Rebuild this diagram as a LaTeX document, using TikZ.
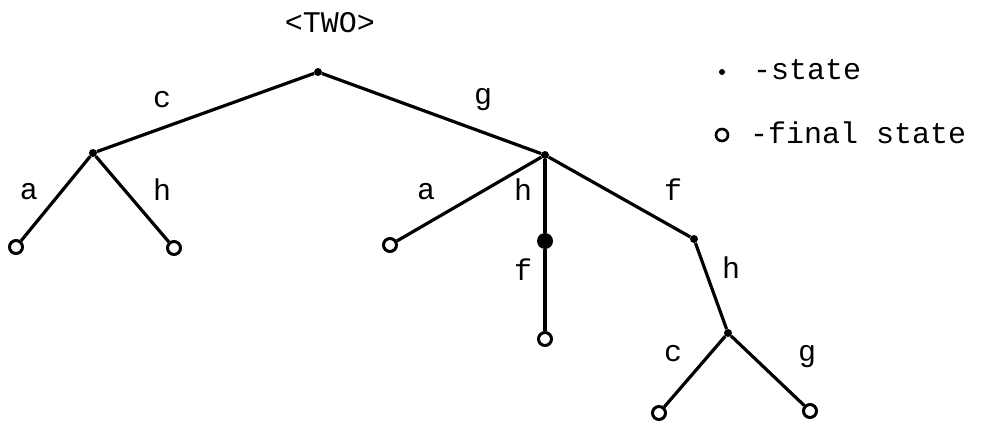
\documentclass[tikz,border=0pt]{standalone}
\usepackage{fontspec}
\setmonofont{Liberation Mono}
\usepackage{tikz}
\usetikzlibrary{positioning}

\tikzset{
  state/.style={circle, fill=black, inner sep=0pt, minimum size=8pt},
  bigstate/.style={circle, fill=black, inner sep=0pt, minimum size=16pt},
  final/.style={circle, draw=black, line width=3pt, fill=white, inner sep=0pt,
    minimum size=13pt,
    path picture={\fill (path picture bounding box.center) circle (2.4pt);}},
  edge/.style={line width=3.2pt},
  lbl/.style={font=\ttfamily\fontsize{30}{32}\selectfont, inner sep=1pt}
}

\begin{document}
\begin{tikzpicture}[x=1pt, y=-1pt]
  \useasboundingbox (0,0) rectangle (982,423);
  % title
  \node[lbl] (title) at (330,23) {<TWO>};
  % tree states
  \node[state] (root) at (318,72) {};
  \node[state] (sc) at (93,153) {};
  \node[state] (sg) at (545,155) {};
  \node[final] (sca) at (16,247) {};
  \node[final] (sch) at (174,248) {};
  \node[final] (sga) at (390,245) {};
  \node[bigstate] (sgh) at (545,241) {};
  \node[final] (sghf) at (545,339) {};
  \node[state] (sgf) at (694,239) {};
  \node[state] (sgfh) at (728,333) {};
  \node[final] (sgfhc) at (659,413) {};
  \node[final] (sgfhg) at (810,411) {};
  % transitions
  \draw[edge] (root) -- (sc);
  \draw[edge] (root) -- (sg);
  \draw[edge] (sc) -- (sca);
  \draw[edge] (sc) -- (sch);
  \draw[edge] (sg) -- (sga);
  \draw[edge] (sg) -- (sgh);
  \draw[edge] (sgh) -- (sghf);
  \draw[edge] (sg) -- (sgf);
  \draw[edge] (sgf) -- (sgfh);
  \draw[edge] (sgfh) -- (sgfhc);
  \draw[edge] (sgfh) -- (sgfhg);
  % transition labels
  \node[lbl] (lc) at (162,100) {c};
  \node[lbl] (lg) at (483,100) {g};
  \node[lbl] (la1) at (29,192) {a};
  \node[lbl] (lh1) at (162,190) {h};
  \node[lbl] (la2) at (426,192) {a};
  \node[lbl] (lh2) at (523,190) {h};
  \node[lbl] (lf1) at (523,270) {f};
  \node[lbl] (lf2) at (673,190) {f};
  \node[lbl] (lh3) at (731,268) {h};
  \node[lbl] (lc2) at (673,354) {c};
  \node[lbl] (lg2) at (807,357) {g};
  % legend
  \node[circle, fill=black, inner sep=0pt, minimum size=6pt] (keystate) at (722,72) {};
  \node[lbl, anchor=west] (keystatetxt) at (752,70) {-state};
  \node[final, minimum size=12pt, line width=2.6pt] (keyfinal) at (722,135) {};
  \node[lbl, anchor=west] (keyfinaltxt) at (749,133) {-final state};
\end{tikzpicture}
\end{document}
